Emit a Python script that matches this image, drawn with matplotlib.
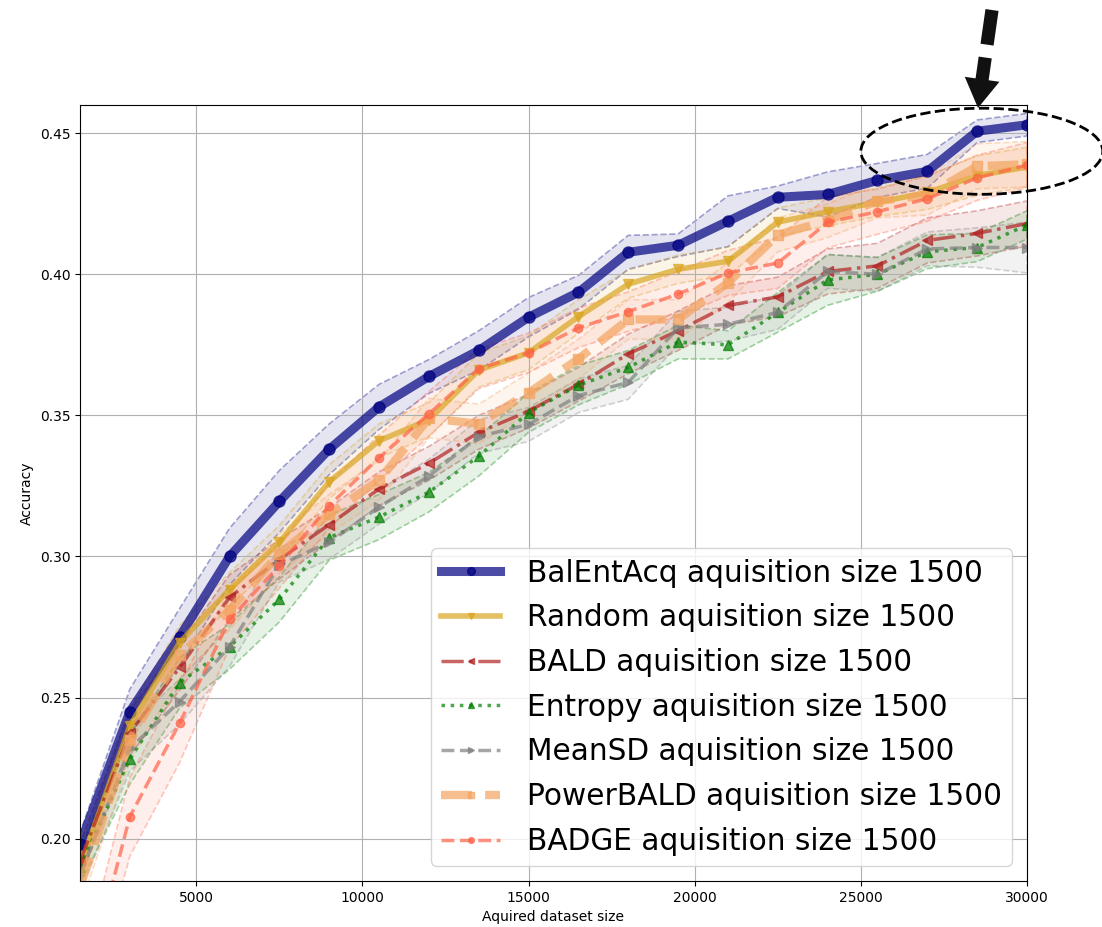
import numpy as np
import matplotlib
matplotlib.use("Agg")
import matplotlib.pyplot as plt
from matplotlib.patches import Ellipse, Polygon
from matplotlib.lines import Line2D
from matplotlib.colors import to_rgba

# Acquired dataset sizes (acquisition step 1500)
dataset_size = [1500, 3000, 4500, 6000, 7500, 9000, 10500, 12000, 13500, 15000,
                16500, 18000, 19500, 21000, 22500, 24000, 25500, 27000, 28500, 30000]

balentacq_mean = [0.198, 0.245, 0.2716, 0.300, 0.3195, 0.338, 0.353, 0.3638, 0.373, 0.3848,
                  0.3936, 0.4078, 0.4103, 0.4188, 0.4273, 0.4283, 0.4333, 0.4365, 0.4507, 0.453]
balentacq_std = [0.004, 0.008, 0.010, 0.010, 0.011, 0.009, 0.008, 0.006, 0.007, 0.007,
                 0.006, 0.006, 0.004, 0.009, 0.004, 0.008, 0.006, 0.006, 0.004, 0.004]

random_mean = [0.190, 0.240, 0.2695, 0.2883, 0.305, 0.3265, 0.341, 0.3485, 0.366, 0.3722,
               0.385, 0.3965, 0.4018, 0.4046, 0.4185, 0.4222, 0.4255, 0.429, 0.435, 0.438]
random_std = [0.005, 0.006, 0.006, 0.006, 0.006, 0.006, 0.006, 0.006, 0.006, 0.006,
              0.006, 0.005, 0.005, 0.005, 0.005, 0.005, 0.005, 0.006, 0.007, 0.007]

bald_mean = [0.192, 0.2375, 0.2607, 0.2855, 0.299, 0.3113, 0.324, 0.333, 0.344, 0.3515,
             0.361, 0.3718, 0.380, 0.389, 0.392, 0.401, 0.403, 0.412, 0.4145, 0.418]
bald_std = [0.006, 0.008, 0.008, 0.008, 0.007, 0.006, 0.006, 0.006, 0.006, 0.006,
            0.006, 0.007, 0.007, 0.007, 0.007, 0.008, 0.008, 0.008, 0.008, 0.008]

entropy_mean = [0.190, 0.2283, 0.2553, 0.268, 0.2848, 0.3067, 0.314, 0.3228, 0.3355, 0.351,
                0.3607, 0.367, 0.376, 0.375, 0.3865, 0.398, 0.400, 0.408, 0.4095, 0.4175]
entropy_std = [0.006, 0.009, 0.009, 0.008, 0.008, 0.008, 0.008, 0.007, 0.007, 0.007,
               0.007, 0.006, 0.006, 0.005, 0.007, 0.009, 0.006, 0.006, 0.005, 0.005]

meansd_mean = [0.187, 0.232, 0.2486, 0.268, 0.297, 0.305, 0.3175, 0.3285, 0.3425, 0.3468,
               0.357, 0.3617, 0.381, 0.3823, 0.3865, 0.401, 0.400, 0.409, 0.4095, 0.4095]
meansd_std = [0.006, 0.008, 0.008, 0.007, 0.006, 0.006, 0.006, 0.006, 0.006, 0.006,
              0.006, 0.006, 0.006, 0.006, 0.006, 0.006, 0.006, 0.006, 0.007, 0.009]

powerbald_mean = [0.183, 0.235, 0.265, 0.281, 0.301, 0.315, 0.327, 0.349, 0.347, 0.358,
                  0.370, 0.384, 0.384, 0.397, 0.414, 0.419, 0.426, 0.428, 0.4383, 0.439]
powerbald_std = [0.007, 0.008, 0.008, 0.007, 0.007, 0.007, 0.007, 0.007, 0.007, 0.007,
                 0.007, 0.007, 0.007, 0.007, 0.006, 0.006, 0.006, 0.007, 0.008, 0.008]

badge_mean = [0.140, 0.2078, 0.241, 0.2777, 0.2968, 0.318, 0.335, 0.3505, 0.3665, 0.3722,
              0.381, 0.3868, 0.393, 0.4005, 0.404, 0.4184, 0.4222, 0.4268, 0.4342, 0.4387]
badge_std = [0.012, 0.014, 0.014, 0.010, 0.008, 0.008, 0.008, 0.008, 0.007, 0.007,
             0.007, 0.007, 0.008, 0.008, 0.009, 0.009, 0.008, 0.008, 0.008, 0.008]

method_names = ["BalEntAcq", "Random", "BALD", "Entropy", "MeanSD", "PowerBALD", "BADGE"]

series = [
    (balentacq_mean, balentacq_std, dict(color="navy", ls="-", lw=6.5, marker="o", ms=8)),
    (random_mean, random_std, dict(color="goldenrod", ls="-", lw=4, marker="v", ms=7)),
    (bald_mean, bald_std, dict(color="firebrick", ls="-.", lw=2.5, marker="<", ms=7)),
    (entropy_mean, entropy_std, dict(color="green", ls=":", lw=2.5, marker="^", ms=7)),
    (meansd_mean, meansd_std, dict(color="gray", ls="--", lw=2.5, marker=">", ms=7)),
    (powerbald_mean, powerbald_std, dict(color="sandybrown", ls="--", lw=6, marker="s", ms=7)),
    (badge_mean, badge_std, dict(color="tomato", ls="--", lw=2.5, marker="o", ms=6)),
]

fig = plt.figure(figsize=(11.02, 9.27), dpi=100)
ax = fig.add_axes([80 / 1102, 46 / 927, 947 / 1102, 776 / 927])

x = np.array(dataset_size)
for name, (mean, std, st) in zip(method_names, series):
    m = np.array(mean)
    s = np.array(std)
    ax.fill_between(x, m - s, m + s, facecolor=to_rgba(st["color"], 0.10),
                    edgecolor=to_rgba(st["color"], 0.35), linestyle="--", linewidth=1.2)
    ax.plot(x, m, color=st["color"], linestyle=st["ls"], linewidth=st["lw"],
            marker=st["marker"], markersize=st["ms"], alpha=0.7,
            label=f"{name} aquisition size 1500")

ax.set_xlim(1500, 30000)
ax.set_ylim(0.185, 0.46)
ax.set_xticks([5000, 10000, 15000, 20000, 25000, 30000])
ax.set_yticks([0.20, 0.25, 0.30, 0.35, 0.40, 0.45])
ax.grid(True)
ax.set_xlabel("Aquired dataset size")
ax.set_ylabel("Accuracy")

ax.legend(loc="lower right", fontsize=21.3, handlelength=2.0, handletextpad=0.9,
          borderpad=0.35, labelspacing=0.53, markerscale=0.7)

# Highlight of the final acquisition rounds
ell = Ellipse((28640, 0.4436), width=7280, height=0.0305, fill=False,
              edgecolor="black", linestyle="--", linewidth=2, clip_on=False, zorder=10)
ax.add_patch(ell)

# Dashed pointer arrow above the highlight (figure pixel geometry)
W, H = 1102, 927
def fp(px, py):
    return (px / W, 1 - py / H)

start = np.array([992.0, 10.0])
tip = np.array([978.0, 108.0])
d = (tip - start) / np.linalg.norm(tip - start)
nrm = np.array([-d[1], d[0]])
for t0, t1 in [(0, 35), (48, 72)]:
    p0 = start + d * t0
    p1 = start + d * t1
    fig.add_artist(Line2D([fp(*p0)[0], fp(*p1)[0]], [fp(*p0)[1], fp(*p1)[1]],
                          transform=fig.transFigure, color="#111111", linewidth=9.5,
                          solid_capstyle="butt"))
base = start + d * 70
head = [fp(*(base + nrm * 17.5)), fp(*(base - nrm * 17.5)), fp(*tip)]
fig.add_artist(Polygon(head, closed=True, transform=fig.transFigure,
                       facecolor="#111111", edgecolor="none"))

fig.savefig("out.png", dpi=100)
